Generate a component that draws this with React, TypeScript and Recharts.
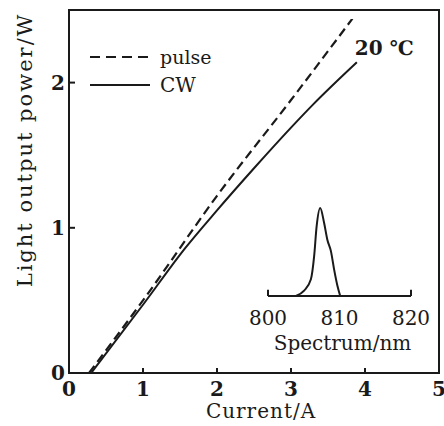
import { Label, LabelList, Legend, Line, LineChart, ReferenceArea, ReferenceLine, XAxis, YAxis } from 'recharts';

// L-I curves (current in A, power in W)
const pulseCurrent = [0.27, 1, 2, 3, 3.83];
const pulsePower = [0, 0.5, 1.22, 1.88, 2.44];
const cwCurrent = [0.3, 1, 1.57, 2, 2.5, 3, 3.3, 3.89];
const cwPower = [0, 0.47, 0.86, 1.12, 1.41, 1.69, 1.85, 2.14];
const xTicks = [0, 1, 2, 3, 4, 5];
const yTicks = [0, 1, 2];

// inset spectrum (normalized)
const wavelength = [803.9, 805.05, 806.0, 806.45, 806.8, 807.3, 807.85, 808.3, 808.8, 809.25, 809.7, 810.1];
const intensity = [0, 0.06, 0.19, 0.45, 0.79, 1, 0.83, 0.64, 0.51, 0.3, 0.12, 0];
const specTicks = [800, 810, 820];

const pulseData = pulseCurrent.map((i, k) => ({ i, p: pulsePower[k] }));
const cwData = cwCurrent.map((i, k) => ({ i, p: cwPower[k] }));
const specData = wavelength.map((w, k) => ({ w, v: intensity[k] }));

const FONT = '"DejaVu Serif", serif';
const INK = '#1a1a1a';

const renderLegend = () => (
  <svg width={140} height={58} style={{ overflow: 'visible' }}>
    <line x1={5} x2={65} y1={12} y2={12} stroke={INK} strokeWidth={2.2} strokeDasharray="10 6" />
    <text x={75} y={12} dominantBaseline="central" fontFamily={FONT} fontSize={19} fill={INK}>pulse</text>
    <line x1={5} x2={65} y1={40} y2={40} stroke={INK} strokeWidth={2} />
    <text x={75} y={40} dominantBaseline="central" fontFamily={FONT} fontSize={20} fill={INK}>CW</text>
  </svg>
);

const YTitle = (props: any) => {
  const vb = props.viewBox;
  const cx = vb.x + 25;
  const cy = vb.y + 140;
  return (
    <text x={cx} y={cy} transform={`rotate(-90, ${cx}, ${cy})`} textAnchor="middle" dominantBaseline="central"
      fontFamily={FONT} fontSize={21} letterSpacing={2} fill={INK}>
      Light output power/W
    </text>
  );
};

const TempLabel = (props: any) => {
  if (props.index !== cwData.length - 1) return null;
  return (
    <text x={props.x - 2} y={props.y - 7} fontFamily={FONT} fontSize={20} fontWeight="bold" fill={INK}>20 ℃</text>
  );
};

const tickStyle = { fontFamily: FONT, fontSize: 20, fontWeight: 'bold', fill: INK };

export default function App() {
  return (
    <div style={{ position: 'absolute', left: 0, top: 0, width: 444, height: 426, background: '#fff' }}>
      <LineChart width={444} height={426} data={pulseData} margin={{ top: 10, right: 5, bottom: 0, left: 0 }}>
        <XAxis
          type="number"
          dataKey="i"
          domain={[0, 5]}
          ticks={xTicks}
          height={53}
          tickSize={-5}
          tickMargin={14}
          stroke={INK}
          strokeWidth={2}
          tick={tickStyle}
        >
          <Label value="Current/A" position="insideBottom" offset={8} dx={7} style={{ fontFamily: FONT, fontSize: 20, letterSpacing: 1, fill: INK }} />
        </XAxis>
        <YAxis
          type="number"
          domain={[0, 2.5]}
          ticks={yTicks}
          width={69}
          tickSize={-6}
          tickMargin={10}
          stroke={INK}
          strokeWidth={2}
          tick={tickStyle}
          label={{ content: YTitle }}
        />
        <ReferenceArea x1={0} x2={5} y1={0} y2={2.5} fill="none" stroke={INK} strokeWidth={2} />
        <Legend content={renderLegend} layout="vertical" align="center" verticalAlign="middle"
          wrapperStyle={{ left: 85, top: 45, width: 140, height: 58 }} />
        <Line data={pulseData} dataKey="p" name="pulse" type="monotone" stroke={INK} strokeWidth={2.2}
          strokeDasharray="9 5" dot={false} isAnimationActive={false} />
        <Line data={cwData} dataKey="p" name="CW" type="monotone" stroke={INK} strokeWidth={2}
          dot={false} isAnimationActive={false}>
          <LabelList dataKey="p" content={TempLabel} />
        </Line>
      </LineChart>

      <div style={{ position: 'absolute', left: 250, top: 190 }}>
        <LineChart width={180} height={170} data={specData} margin={{ top: 18, right: 19, bottom: 0, left: 18 }}>
          <XAxis
            type="number"
            dataKey="w"
            domain={[800, 820]}
            ticks={specTicks}
            height={64}
            tickSize={0}
            tickMargin={15}
            stroke={INK}
            strokeWidth={2}
            tick={{ fontFamily: FONT, fontSize: 20, fill: INK }}
          >
            <Label value="Spectrum/nm" position="insideBottom" offset={10} dx={3} style={{ fontFamily: FONT, fontSize: 20, fill: INK }} />
          </XAxis>
          <YAxis hide type="number" domain={[0, 1]} />
          <ReferenceLine segment={[{ x: 800, y: 0 }, { x: 800, y: 0.07 }]} stroke={INK} strokeWidth={2} />
          <ReferenceLine segment={[{ x: 820, y: 0 }, { x: 820, y: 0.07 }]} stroke={INK} strokeWidth={2} />
          <Line dataKey="v" type="monotone" stroke={INK} strokeWidth={2} dot={false} isAnimationActive={false} />
        </LineChart>
      </div>
    </div>
  );
}
